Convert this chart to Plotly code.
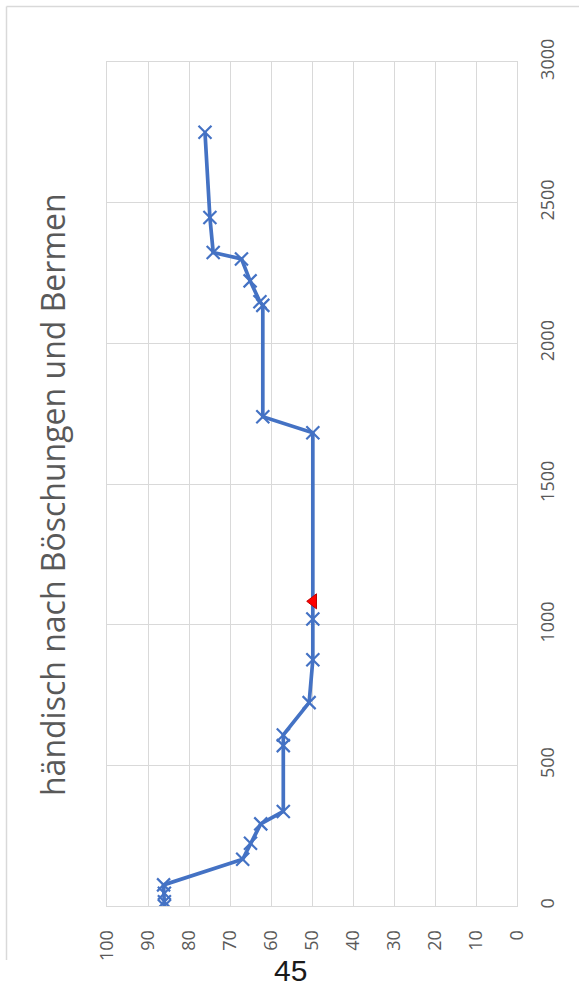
import plotly.graph_objects as go

# Distance along the section (m) and measured value (%)
distance = [0, 15, 45, 75, 166, 223, 292, 336, 570, 608, 723, 875, 1020,
            1682, 1739, 2135, 2148, 2222, 2300, 2323, 2447, 2750]
value = [86.0, 86.0, 86.0, 86.2, 66.9, 65.0, 62.5, 57.0, 57.0, 57.0, 50.7,
         49.8, 49.8, 49.8, 62.0, 62.0, 62.7, 65.1, 67.2, 74.1, 74.9, 76.1]

# Single highlighted point
mark_distance = [1083]
mark_value = [49.7]

title_text = "händisch nach Böschungen und Bermen"
page_number = "45"

value_ticks = [100, 90, 80, 70, 60, 50, 40, 30, 20, 10, 0]
distance_ticks = [0, 500, 1000, 1500, 2000, 2500, 3000]

W, H = 579, 989
L, R, T, B = 107, 62, 62, 83
pw, ph = W - L - R, H - T - B


def px(x):
    return (x - L) / pw


def py(y):
    return (H - B - y) / ph


BLUE = "#4472C4"
GRID = "#D9D9D9"
TXT = "#595959"

fig = go.Figure()
fig.add_trace(go.Scatter(
    x=value, y=distance, mode="lines+markers",
    line=dict(color=BLUE, width=3.7),
    marker=dict(symbol="x-thin", size=13, line=dict(color=BLUE, width=2.2)),
    hoverinfo="skip", showlegend=False,
))
fig.add_trace(go.Scatter(
    x=mark_value, y=mark_distance, mode="markers",
    marker=dict(symbol="triangle-left", size=13, color="#FF0000",
                line=dict(color="#C00000", width=1)),
    hoverinfo="skip", showlegend=False,
))

fig.update_layout(
    width=W, height=H,
    margin=dict(l=L, r=R, t=T, b=B),
    paper_bgcolor="white", plot_bgcolor="white",
    font=dict(family="Open Sans", color=TXT),
    xaxis=dict(
        range=[100, 0], tickvals=value_ticks,
        ticktext=[str(v) for v in value_ticks],
        tickangle=-90, tickfont=dict(size=18, color=TXT),
        ticklabelstandoff=16,
        showgrid=True, gridcolor=GRID, gridwidth=1,
        showline=True, linecolor=GRID, linewidth=1, mirror=True,
        zeroline=False, ticks="",
    ),
    yaxis=dict(
        range=[0, 3000], tickvals=distance_ticks,
        ticktext=[str(v) for v in distance_ticks],
        side="right", tickangle=-90, tickfont=dict(size=18, color=TXT),
        ticklabelstandoff=14,
        showgrid=True, gridcolor=GRID, gridwidth=1,
        showline=True, linecolor=GRID, linewidth=1, mirror=True,
        zeroline=False, ticks="",
    ),
    shapes=[
        dict(type="line", xref="paper", yref="paper",
             x0=px(6.5), x1=px(6.5), y0=py(6.5), y1=py(960),
             line=dict(color=GRID, width=1.5)),
        dict(type="line", xref="paper", yref="paper",
             x0=px(6.5), x1=px(W + 5), y0=py(6.5), y1=py(6.5),
             line=dict(color=GRID, width=1.5)),
    ],
    annotations=[
        dict(text=title_text, xref="paper", yref="paper",
             x=px(52), y=py(495), textangle=-90, showarrow=False,
             font=dict(size=32, color=TXT, family="Open Sans"),
             xanchor="center", yanchor="middle"),
        dict(text=page_number, xref="paper", yref="paper",
             x=px(290), y=py(989), showarrow=False,
             font=dict(size=30, color="#1A1A1A", family="Liberation Sans"),
             xanchor="center", yanchor="bottom"),
    ],
)

fig.write_html("out.html")
